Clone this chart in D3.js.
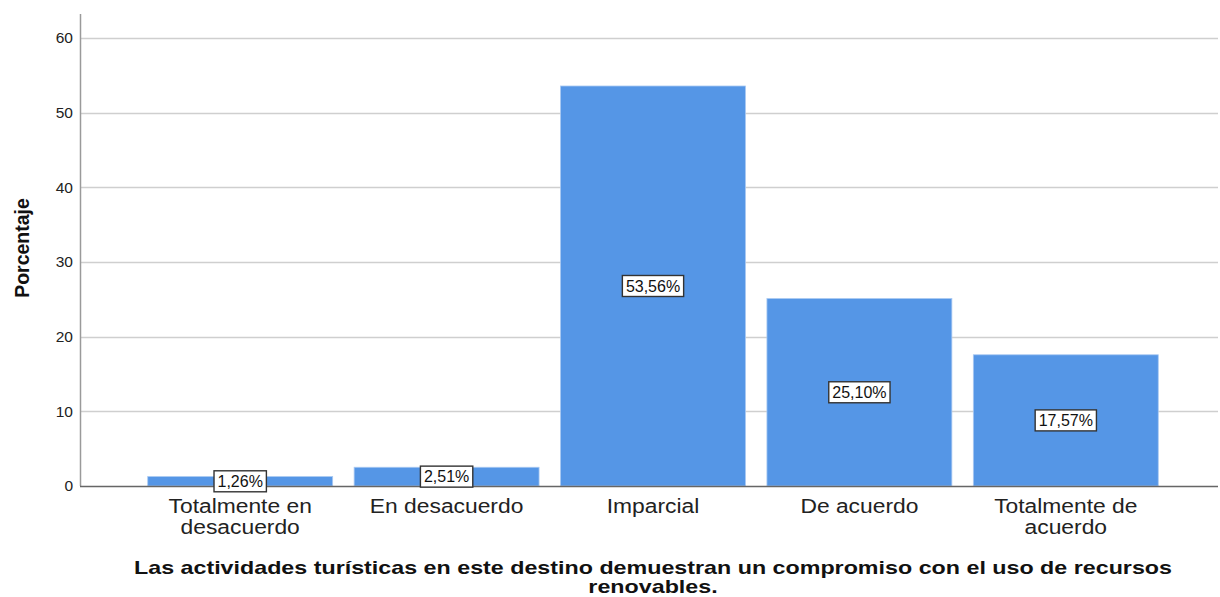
<!DOCTYPE html>
<html>
<head>
<meta charset="utf-8">
<script src="https://cdn.jsdelivr.net/npm/d3@7"></script>
<style>
  body { margin: 0; background: #fff; }
  text { font-family: "Liberation Sans", Arial, sans-serif; }
</style>
</head>
<body>
<svg width="1220" height="597"></svg>
<script>
const categories = [
  ["Totalmente en", "desacuerdo"],
  ["En desacuerdo"],
  ["Imparcial"],
  ["De acuerdo"],
  ["Totalmente de", "acuerdo"],
];
const values = [1.26, 2.51, 53.56, 25.1, 17.57];
const yTicks = [0, 10, 20, 30, 40, 50, 60];
const xTitle = [
  "Las actividades turísticas en este destino demuestran un compromiso con el uso de recursos",
  "renovables.",
];
const yTitle = "Porcentaje";

const svg = d3.select("svg");
const axisX = 80, plotRight = 1218, plotTop = 14, plotBottom = 486;

const yScale = d3.scaleLinear().domain([0, 63.2]).range([plotBottom, plotTop]);
const xScale = d3
  .scaleBand()
  .domain(d3.range(values.length))
  .range([137, 1169])
  .paddingInner(0.104)
  .paddingOuter(0.052);

// grid lines
svg.append("g")
  .selectAll("line")
  .data(yTicks.filter((d) => d > 0))
  .enter()
  .append("line")
  .attr("x1", axisX)
  .attr("x2", plotRight)
  .attr("y1", (d) => Math.round(yScale(d)) + 0.5)
  .attr("y2", (d) => Math.round(yScale(d)) + 0.5)
  .attr("stroke", "#cfcfcf")
  .attr("stroke-width", 1.3);

// y axis
const yAxis = d3.axisLeft(yScale).tickValues(yTicks).tickSize(0).tickPadding(7);
const yAxisG = svg.append("g").attr("transform", `translate(${axisX},0)`).call(yAxis);
yAxisG.select(".domain").remove();
yAxisG.selectAll("text").attr("font-size", 15.5).attr("fill", "#222")
  .attr("font-family", "'Liberation Sans', Arial, sans-serif");

svg.append("line")
  .attr("x1", axisX + 0.5).attr("x2", axisX + 0.5)
  .attr("y1", plotTop).attr("y2", plotBottom)
  .attr("stroke", "#9a9a9a").attr("stroke-width", 1.5);

// bars
svg.append("g")
  .selectAll("rect")
  .data(values)
  .enter()
  .append("rect")
  .attr("x", (d, i) => xScale(i))
  .attr("width", xScale.bandwidth())
  .attr("y", (d) => yScale(d))
  .attr("height", (d) => plotBottom - yScale(d))
  .attr("fill", "#5596e6")
  .attr("stroke", "#a9c9f2")
  .attr("stroke-width", 0.8);

// x baseline
svg.append("line")
  .attr("x1", axisX).attr("x2", plotRight)
  .attr("y1", plotBottom + 0.5).attr("y2", plotBottom + 0.5)
  .attr("stroke", "#666").attr("stroke-width", 1.5);

// value labels
const labels = svg.append("g")
  .selectAll("g")
  .data(values)
  .enter()
  .append("g")
  .attr("transform", (d, i) =>
    `translate(${xScale(i) + xScale.bandwidth() / 2},${yScale(d / 2)})`);
labels.append("text")
  .attr("text-anchor", "middle")
  .attr("dy", "0.36em")
  .attr("font-size", 16)
  .attr("fill", "#111")
  .text((d) => d.toFixed(2).replace(".", ",") + "%");
labels.each(function () {
  const g = d3.select(this);
  const b = g.select("text").node().getBBox();
  g.insert("rect", "text")
    .attr("x", b.x - 3.5)
    .attr("y", -10.5)
    .attr("width", b.width + 7)
    .attr("height", 21)
    .attr("fill", "#fff")
    .attr("stroke", "#333")
    .attr("stroke-width", 1.4);
});

// category labels
const catG = svg.append("g")
  .selectAll("g")
  .data(categories)
  .enter()
  .append("g")
  .attr("transform", (d, i) =>
    `translate(${xScale(i) + xScale.bandwidth() / 2},513) scale(1.17,1)`)
  .append("text")
  .attr("text-anchor", "middle")
  .attr("font-size", 19.5)
  .attr("fill", "#222");
catG.selectAll("tspan")
  .data((d) => d)
  .enter()
  .append("tspan")
  .attr("x", 0)
  .attr("y", (d, i) => i * 21.5)
  .text((d) => d);

// axis titles
svg.append("g")
  .attr("transform", "translate(653,574) scale(1.33,1)")
  .append("text")
  .attr("text-anchor", "middle")
  .attr("font-size", 17.5)
  .attr("font-weight", "bold")
  .attr("fill", "#111")
  .selectAll("tspan")
  .data(xTitle)
  .enter()
  .append("tspan")
  .attr("x", 0)
  .attr("y", (d, i) => i * 19.5)
  .text((d) => d);

svg.append("text")
  .attr("transform", "translate(29,248) rotate(-90)")
  .attr("text-anchor", "middle")
  .attr("font-size", 19.5)
  .attr("font-weight", "bold")
  .attr("fill", "#111")
  .text(yTitle);
</script>
</body>
</html>
